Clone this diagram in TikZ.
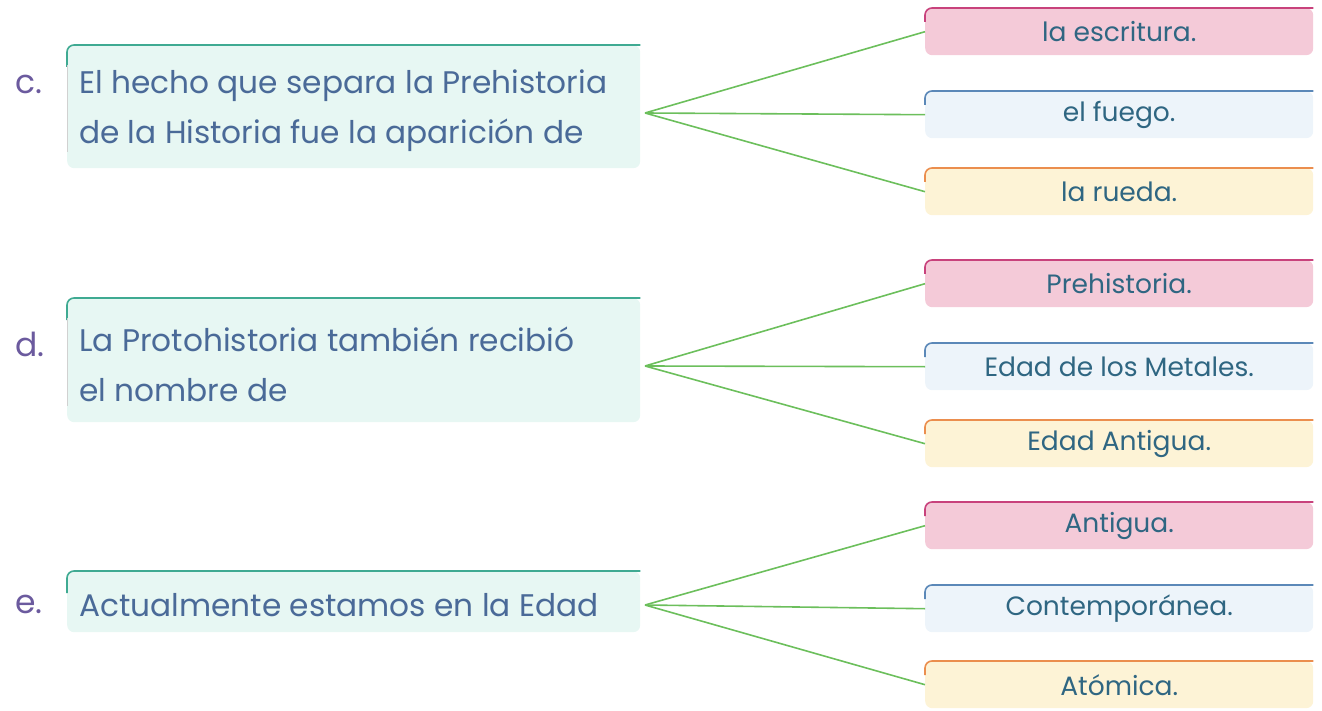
\documentclass[tikz,border=0pt]{standalone}
\usepackage{fontspec}
\setmainfont{Poppins}
\definecolor{qtext}{HTML}{4A6A98}
\definecolor{atext}{HTML}{2F6682}
\definecolor{lbl}{HTML}{6B5A9E}
\definecolor{qfill}{HTML}{E7F7F3}
\definecolor{qline}{HTML}{3FAA92}
\definecolor{pfill}{HTML}{F4CAD8}
\definecolor{pline}{HTML}{C8427C}
\definecolor{bfill}{HTML}{EDF4FA}
\definecolor{bline}{HTML}{5B88B8}
\definecolor{ofill}{HTML}{FDF3D6}
\definecolor{oline}{HTML}{EB8E4E}
\definecolor{conn}{HTML}{6CBF5C}
\tikzset{
  qbox/.style={anchor=north west, fill=qfill, rounded corners=7pt, minimum width=573pt, inner sep=0pt},
  qtxt/.style={anchor=west, inner sep=0pt, align=left, text=qtext,
    font=\fontsize{31.2}{50}\selectfont},
  abox/.style={anchor=north west, rounded corners=7pt, minimum width=388pt,
    minimum height=47pt, inner sep=0pt, align=center, text=atext,
    font=\fontsize{26.5}{30}\selectfont},
  pinkbox/.style={abox, fill=pfill},
  bluebox/.style={abox, fill=bfill},
  orangebox/.style={abox, fill=ofill},
  lab/.style={text=lbl, font=\fontsize{33}{34}\selectfont, anchor=west},
  link/.style={draw=conn, line width=1.6pt},
  edge/.style={line width=1.6pt, rounded corners=7pt}
}
\newcommand{\topedge}[3]{\draw[edge,#2] ([yshift=-#3]#1.north west) |- (#1.north east);}
\begin{document}
\begin{tikzpicture}[x=1pt,y=-1pt]
\useasboundingbox (0,0) rectangle (1322,711);
% question boxes
\node[qbox, minimum height=123pt] (qc) at (67,45) {};
\node[qbox, minimum height=124pt] (qd) at (67,298) {};
\node[qbox, minimum height=61pt] (qe) at (67,571) {};
\foreach \n in {qc,qd,qe}{\topedge{\n}{draw=qline}{22pt}}
\draw[black!18, line width=0.8pt] ([yshift=-20pt]qc.north west) -- ([yshift=16pt]qc.south west);
\draw[black!18, line width=0.8pt] ([yshift=-20pt]qd.north west) -- ([yshift=16pt]qd.south west);
\node[qtxt] (tc) at ([xshift=12pt,yshift=-4pt]qc.west) {El hecho que separa la Prehistoria\\de la Historia fue la aparición de};
\node[qtxt] (td) at ([xshift=12pt,yshift=-4pt]qd.west) {La Protohistoria también recibió\\el nombre de};
\node[qtxt] (te) at ([xshift=12pt,yshift=-3pt]qe.west) {Actualmente estamos en la Edad};
% labels
\node[lab] (lc) at (12,84) {c.};
\node[lab] (ld) at (12,344) {d.};
\node[lab] (le) at (12,604) {e.};
% answer boxes
\node[pinkbox] (c1) at (925,8) {la escritura.};
\node[bluebox] (c2) at (925,91) {el fuego.};
\node[orangebox] (c3) at (925,168) {la rueda.};
\node[pinkbox] (d1) at (925,260) {Prehistoria.};
\node[bluebox] (d2) at (925,343) {Edad de los Metales.};
\node[orangebox] (d3) at (925,420) {Edad Antigua.};
\node[pinkbox] (e1) at (925,502) {Antigua.};
\node[bluebox] (e2) at (925,585) {Contemporánea.};
\node[orangebox] (e3) at (925,661) {Atómica.};
\foreach \n in {c1,d1,e1}{\topedge{\n}{draw=pline}{14pt}}
\foreach \n in {c2,d2,e2}{\topedge{\n}{draw=bline}{14pt}}
\foreach \n in {c3,d3,e3}{\topedge{\n}{draw=oline}{14pt}}
% connectors
\coordinate (jc) at (645,113);
\coordinate (jd) at (645,366);
\coordinate (je) at (645,605);
\foreach \a in {c1,c2,c3}{\draw[link] (jc) -- (\a.west);}
\foreach \a in {d1,d2,d3}{\draw[link] (jd) -- (\a.west);}
\foreach \a in {e1,e2,e3}{\draw[link] (je) -- (\a.west);}
\end{tikzpicture}
\end{document}
